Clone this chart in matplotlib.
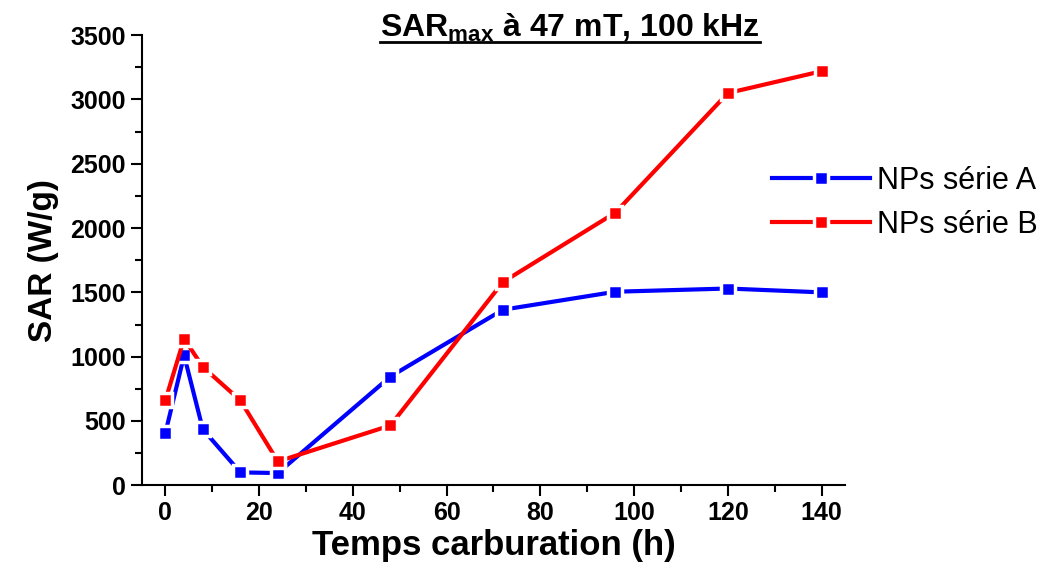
import matplotlib
matplotlib.use('Agg')
import matplotlib.pyplot as plt
from matplotlib.lines import Line2D
from matplotlib.ticker import MultipleLocator

plt.rcParams['font.family'] = ['Liberation Sans', 'DejaVu Sans']
plt.rcParams['mathtext.fontset'] = 'custom'
plt.rcParams['mathtext.rm'] = 'Liberation Sans'
plt.rcParams['mathtext.bf'] = 'Liberation Sans:bold'

# Données
temps = [0, 4, 8, 16, 24, 48, 72, 96, 120, 140]
sar_a = [405, 1010, 435, 100, 95, 845, 1365, 1505, 1530, 1500]
sar_b = [660, 1140, 920, 660, 185, 465, 1580, 2120, 3050, 3220]
noms = ['NPs série A', 'NPs série B']

fig = plt.figure(figsize=(10.59, 5.77), dpi=100)
ax = fig.add_axes([0.134, 0.159, 0.664, 0.780])

for y, c, nom in zip([sar_a, sar_b], ['#0000ff', '#ff0000'], noms):
    ax.plot(temps, y, color=c, lw=3, marker='s', ms=10.5, mfc=c,
            mec='white', mew=2.5, label=nom)

ax.set_xlim(-5, 145)
ax.set_ylim(0, 3500)
ax.xaxis.set_major_locator(MultipleLocator(20))
ax.xaxis.set_minor_locator(MultipleLocator(10))
ax.yaxis.set_major_locator(MultipleLocator(500))
ax.yaxis.set_minor_locator(MultipleLocator(250))
ax.spines['top'].set_visible(False)
ax.spines['right'].set_visible(False)
ax.spines['left'].set_linewidth(1.5)
ax.spines['bottom'].set_linewidth(1.5)
ax.tick_params(which='major', direction='out', length=8, width=1.5, labelsize=18)
ax.tick_params(which='minor', direction='out', length=5, width=1.5)
for lab in ax.get_xticklabels() + ax.get_yticklabels():
    lab.set_fontweight('bold')

ax.set_xlabel('Temps carburation (h)', fontsize=25, fontweight='bold', labelpad=3)
ax.set_ylabel('SAR (W/g)', fontsize=24, fontweight='bold', labelpad=8)

leg = ax.legend(loc='center left', bbox_to_anchor=(0.896, 0.627), frameon=False,
                fontsize=22, handlelength=3.2, handletextpad=0.25, labelspacing=0.45,
                borderaxespad=0, borderpad=0)

t = fig.text(0.538, 0.952, r'SAR$_{\mathbf{max}}$ à 47 mT, 100 kHz',
             ha='center', va='center', fontsize=23, fontweight='bold')

# soulignement du titre
fig.canvas.draw()
bb = t.get_window_extent().transformed(fig.transFigure.inverted())
fig.add_artist(Line2D([bb.x0, bb.x1], [bb.y0 + 0.004, bb.y0 + 0.004],
                      transform=fig.transFigure, color='black', lw=2))

fig.savefig('out.png', dpi=100)
